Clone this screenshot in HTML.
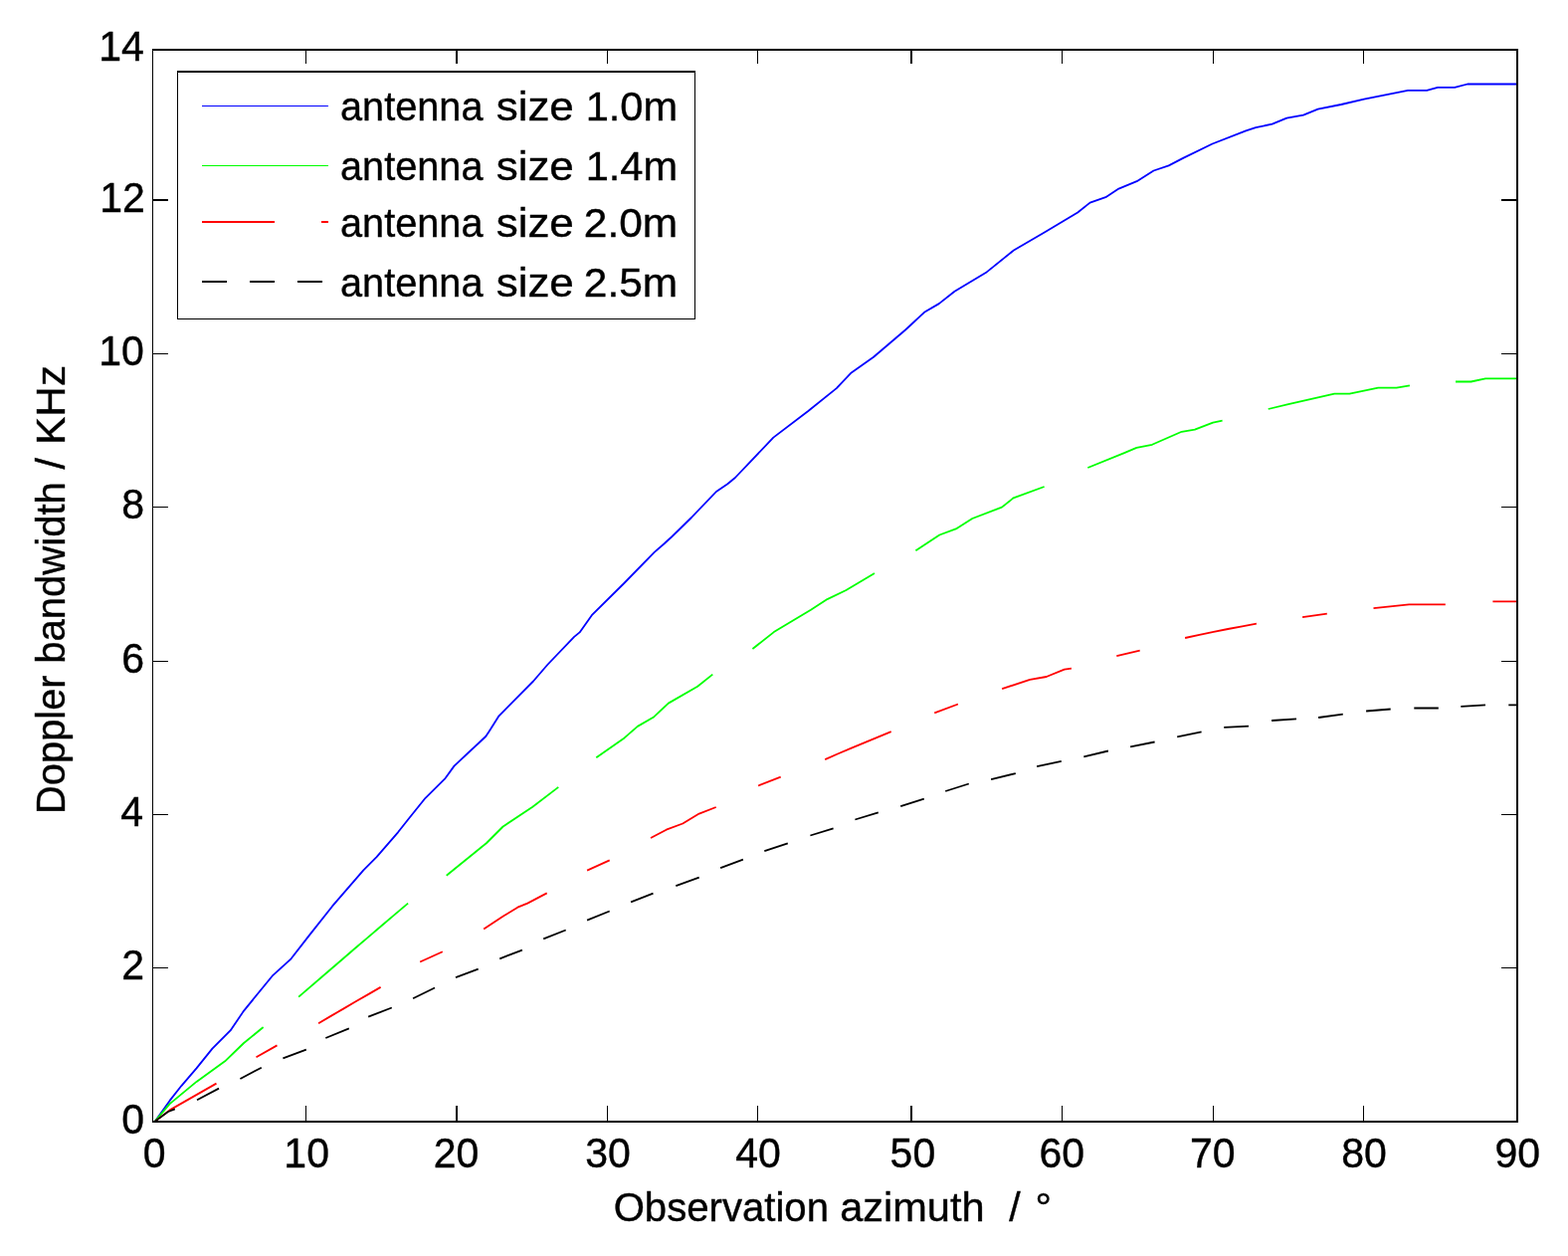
<!DOCTYPE html><html><head><meta charset="utf-8"><title>Doppler bandwidth vs observation azimuth</title><style>html,body{margin:0;padding:0;background:#fff;overflow:hidden;}svg{display:block;}text{font-family:"Liberation Sans",Arial,Helvetica,sans-serif;fill:#000;stroke:#000;stroke-width:0.4px;}</style></head><body>
<svg width="1576" height="1262" viewBox="0 0 1576 1262">
<rect x="0" y="0" width="1576" height="1262" fill="#fff"/>
<path d="M155.6,1126.9 170.6,1105.9 182.5,1090.8 197.5,1073.4 213.4,1053.6 231.6,1035.4 245.1,1015.6 273.6,980.7 292.6,963.3 310.8,939.9 333.9,910.7 365.3,874.4 378.5,861.2 400.0,836.3 411.5,821.7 427.6,801.8 447.0,782.7 456.5,769.6 488.2,740.0 491.4,735.2 501.5,719.3 536.0,684.5 550.2,668.0 577.1,639.9 582.6,635.4 594.8,618.2 627.3,586.0 657.7,554.9 667.9,546.0 675.0,539.5 695.0,520.0 719.9,494.0 731.3,486.3 738.9,480.0 777.3,439.6 812.0,413.2 840.8,390.1 855.7,374.4 878.0,358.8 910.0,331.5 929.0,313.8 943.8,305.1 959.5,292.7 990.8,274.1 1018.9,251.5 1050.2,233.3 1083.2,213.5 1095.6,203.6 1111.3,198.2 1124.5,189.6 1142.6,182.2 1159.5,171.5 1174.7,166.4 1189.6,158.6 1218.6,144.5 1252.3,131.3 1262.2,128.2 1278.7,124.6 1293.3,118.7 1310.0,115.6 1324.7,109.6 1348.0,105.0 1371.0,99.6 1415.0,90.8 1434.0,90.8 1445.0,87.9 1462.0,87.9 1475.0,84.5 1524.3,84.5" fill="none" stroke="#0000ff" stroke-width="1.8" stroke-linejoin="round" stroke-linecap="butt"/>
<path d="M155.6,1126.9 170.6,1109.1 197.5,1086.9 226.1,1066.3 245.1,1048.0 264.4,1032.2 264.6,1032.0 M300.1,1001.7 300.2,1001.6 330.0,976.0 343.4,964.5 356.7,953.0 370.1,941.6 383.4,930.2 396.8,918.9 410.1,907.6 M448.7,879.7 489.1,847.0 505.6,830.5 535.3,810.7 561.3,790.9 M599.3,761.2 627.6,741.4 640.8,729.9 656.6,720.8 671.8,706.6 701.1,689.7 716.3,677.6 M756.4,652.0 777.8,635.1 815.0,612.8 831.5,602.1 850.4,593.0 879.0,576.0 M920.4,553.3 944.3,537.5 960.8,531.4 977.3,521.0 1007.0,509.6 1018.6,500.3 1049.6,489.0 M1093.3,470.0 1130.0,455.1 1142.4,449.8 1158.0,446.8 1187.7,433.8 1200.9,431.7 1219.1,424.6 1228.6,422.7 M1274.7,411.0 1295.0,406.1 1341.2,395.7 1356.4,395.7 1385.2,389.7 1403.6,389.7 1416.9,387.3 M1463.0,383.5 1478.5,383.5 1493.1,380.4 1524.8,380.4" fill="none" stroke="#00ff00" stroke-width="1.8" stroke-linejoin="round" stroke-linecap="butt"/>
<path d="M155.6,1126.9 170.6,1115.4 217.5,1088.6 M257.5,1062.3 278.5,1050.4 M320.1,1028.2 332.6,1020.9 345.1,1013.6 357.6,1006.3 370.1,999.1 382.6,991.9 M422.2,966.5 444.8,956.2 M486.2,933.6 505.5,920.8 520.3,911.7 530.2,907.6 549.7,897.4 M590.1,874.6 612.7,864.4 M654.0,842.0 669.7,833.7 686.2,827.5 702.7,817.6 719.7,811.0 M762.1,789.5 784.7,780.6 M829.2,763.1 842.5,757.3 855.8,751.7 869.1,746.1 882.4,740.6 895.7,735.2 M939.2,716.3 962.9,707.5 M1007.1,692.2 1035.2,682.8 1051.7,680.0 1069.8,672.6 1076.9,671.7 M1122.3,659.2 1145.7,653.6 M1191.1,641.0 1205.5,637.9 1219.8,634.9 1234.2,632.0 1248.5,629.3 1262.9,626.7 M1309.1,620.1 1333.8,616.6 M1380.5,611.2 1416.2,607.4 1452.8,607.4 M1500.4,604.4 1524.6,604.4" fill="none" stroke="#ff0000" stroke-width="1.8" stroke-linejoin="round" stroke-linecap="butt"/>
<path d="M155.6,1126.9 169.0,1117.0 175.8,1114.3 M198.0,1105.2 220.0,1093.6 M241.4,1084.0 262.8,1072.7 M284.4,1063.3 307.8,1054.6 M327.3,1043.0 350.8,1033.4 M370.2,1021.6 393.8,1012.5 M415.1,1003.3 437.0,992.5 M458.0,982.1 480.7,973.6 M502.2,963.3 524.9,954.6 M546.2,943.4 568.7,934.5 M590.1,924.6 612.7,915.5 M634.1,906.4 656.5,897.6 M679.3,890.1 702.7,881.6 M724.1,872.2 746.9,863.7 M768.3,855.2 791.8,847.4 M814.4,839.5 837.6,832.4 M859.4,823.5 882.8,816.4 M905.2,810.1 928.8,802.7 M950.2,795.0 973.8,787.5 M996.1,783.1 1020.8,777.1 M1042.1,770.2 1066.8,764.8 M1089.3,760.3 1113.9,754.5 M1136.1,750.4 1160.6,745.5 M1183.2,740.3 1207.6,735.4 M1230.2,730.9 1255.0,729.6 M1278.1,724.0 1303.0,722.4 M1325.1,721.0 1349.8,717.7 M1373.1,714.5 1397.7,712.5 M1421.3,711.5 1445.8,711.5 M1468.3,709.8 1493.0,708.4 M1516.3,708.4 1524.6,708.4" fill="none" stroke="#000000" stroke-width="1.8" stroke-linejoin="round" stroke-linecap="butt"/>
<rect x="153" y="49" width="1373" height="2" fill="#000"/>
<rect x="153" y="1126" width="1373" height="2" fill="#000"/>
<rect x="153" y="49" width="1" height="1079" fill="#000"/>
<rect x="1524" y="49" width="2" height="1079" fill="#000"/>
<rect x="307" y="1111" width="1" height="15" fill="#000"/>
<rect x="307" y="51" width="1" height="13" fill="#000"/>
<rect x="458" y="1111" width="2" height="15" fill="#000"/>
<rect x="458" y="51" width="2" height="13" fill="#000"/>
<rect x="610" y="1111" width="1" height="15" fill="#000"/>
<rect x="610" y="51" width="1" height="13" fill="#000"/>
<rect x="761" y="1111" width="1" height="15" fill="#000"/>
<rect x="761" y="51" width="1" height="13" fill="#000"/>
<rect x="915" y="1111" width="2" height="15" fill="#000"/>
<rect x="915" y="51" width="2" height="13" fill="#000"/>
<rect x="1067" y="1111" width="1" height="15" fill="#000"/>
<rect x="1067" y="51" width="1" height="13" fill="#000"/>
<rect x="1219" y="1111" width="1" height="15" fill="#000"/>
<rect x="1219" y="51" width="1" height="13" fill="#000"/>
<rect x="1370" y="1111" width="1" height="15" fill="#000"/>
<rect x="1370" y="51" width="1" height="13" fill="#000"/>
<rect x="154" y="972" width="15" height="1" fill="#000"/>
<rect x="1509" y="972" width="15" height="1" fill="#000"/>
<rect x="154" y="818" width="15" height="1" fill="#000"/>
<rect x="1509" y="818" width="15" height="1" fill="#000"/>
<rect x="154" y="664" width="15" height="1" fill="#000"/>
<rect x="1509" y="664" width="15" height="1" fill="#000"/>
<rect x="154" y="509" width="15" height="1" fill="#000"/>
<rect x="1509" y="509" width="15" height="1" fill="#000"/>
<rect x="154" y="355" width="15" height="1" fill="#000"/>
<rect x="1509" y="355" width="15" height="1" fill="#000"/>
<rect x="154" y="200" width="15" height="2" fill="#000"/>
<rect x="1509" y="200" width="15" height="2" fill="#000"/>
<text transform="translate(143.70,1172.8) scale(1,1.04)" font-size="41">0</text>
<text transform="translate(285.35,1172.8) scale(1,1.04)" font-size="41">10</text>
<text transform="translate(435.65,1172.8) scale(1,1.04)" font-size="41">20</text>
<text transform="translate(588.25,1172.8) scale(1,1.04)" font-size="41">30</text>
<text transform="translate(739.15,1172.8) scale(1,1.04)" font-size="41">40</text>
<text transform="translate(894.60,1172.8) scale(1,1.04)" font-size="41">50</text>
<text transform="translate(1044.55,1172.8) scale(1,1.04)" font-size="41">60</text>
<text transform="translate(1196.00,1172.8) scale(1,1.04)" font-size="41">70</text>
<text transform="translate(1348.25,1172.8) scale(1,1.04)" font-size="41">80</text>
<text transform="translate(1502.50,1172.8) scale(1,1.04)" font-size="41">90</text>
<text transform="translate(122.20,1138.50) scale(1,1.04)" font-size="41">0</text>
<text transform="translate(122.20,984.10) scale(1,1.04)" font-size="41">2</text>
<text transform="translate(121.20,830.10) scale(1,1.04)" font-size="41">4</text>
<text transform="translate(122.20,676.10) scale(1,1.04)" font-size="41">6</text>
<text transform="translate(122.20,521.10) scale(1,1.04)" font-size="41">8</text>
<text transform="translate(99.20,367.10) scale(1,1.04)" font-size="41">10</text>
<text transform="translate(100.20,212.60) scale(1,1.04)" font-size="41">12</text>
<text transform="translate(99.20,61.10) scale(1,1.04)" font-size="41">14</text>
<text x="616.64" y="1226.6" font-size="41" textLength="216.35" lengthAdjust="spacingAndGlyphs">Observation</text>
<text x="844.18" y="1226.6" font-size="41" textLength="145.32" lengthAdjust="spacingAndGlyphs">azimuth</text>
<text x="1014.35" y="1226.6" font-size="41" textLength="11.41" lengthAdjust="spacingAndGlyphs">/</text>
<text x="1040.45" y="1226.6" font-size="41" textLength="16.41" lengthAdjust="spacingAndGlyphs">°</text>
<text transform="rotate(-90)" x="-817.91" y="64.9" font-size="41" textLength="139.49" lengthAdjust="spacingAndGlyphs">Doppler</text>
<text transform="rotate(-90)" x="-666.73" y="64.9" font-size="41" textLength="182.60" lengthAdjust="spacingAndGlyphs">bandwidth</text>
<text transform="rotate(-90)" x="-471.50" y="64.9" font-size="41" textLength="11.41" lengthAdjust="spacingAndGlyphs">/</text>
<text transform="rotate(-90)" x="-446.90" y="64.9" font-size="41" textLength="79.94" lengthAdjust="spacingAndGlyphs">KHz</text>
<text x="341.98" y="121.0" font-size="41.4" textLength="143.56" lengthAdjust="spacingAndGlyphs">antenna</text>
<text x="498.68" y="121.0" font-size="41.4" textLength="78.13" lengthAdjust="spacingAndGlyphs">size</text>
<text x="588.69" y="121.0" font-size="41.4" textLength="92.46" lengthAdjust="spacingAndGlyphs">1.0m</text>
<text x="341.98" y="180.9" font-size="41.4" textLength="143.56" lengthAdjust="spacingAndGlyphs">antenna</text>
<text x="498.68" y="180.9" font-size="41.4" textLength="78.13" lengthAdjust="spacingAndGlyphs">size</text>
<text x="588.69" y="180.9" font-size="41.4" textLength="92.46" lengthAdjust="spacingAndGlyphs">1.4m</text>
<text x="341.98" y="238.0" font-size="41.4" textLength="143.56" lengthAdjust="spacingAndGlyphs">antenna</text>
<text x="498.68" y="238.0" font-size="41.4" textLength="78.13" lengthAdjust="spacingAndGlyphs">size</text>
<text x="586.85" y="238.0" font-size="41.4" textLength="94.36" lengthAdjust="spacingAndGlyphs">2.0m</text>
<text x="341.98" y="297.8" font-size="41.4" textLength="143.56" lengthAdjust="spacingAndGlyphs">antenna</text>
<text x="498.68" y="297.8" font-size="41.4" textLength="78.13" lengthAdjust="spacingAndGlyphs">size</text>
<text x="586.85" y="297.8" font-size="41.4" textLength="94.36" lengthAdjust="spacingAndGlyphs">2.5m</text>
<rect x="178.5" y="72.5" width="520" height="248" fill="none" stroke="#000" stroke-width="1"/>
<rect x="178" y="71" width="521" height="1" fill="#000"/>
<rect x="203" y="106" width="127" height="1" fill="#0000ff"/>
<rect x="203" y="166" width="127" height="1" fill="#00ff00"/>
<rect x="203" y="222" width="73" height="2" fill="#ff0000"/>
<rect x="323" y="222" width="7" height="2" fill="#ff0000"/>
<rect x="203" y="282" width="25" height="2" fill="#000"/>
<rect x="251" y="282" width="25" height="2" fill="#000"/>
<rect x="299" y="282" width="25" height="2" fill="#000"/>
</svg></body></html>
